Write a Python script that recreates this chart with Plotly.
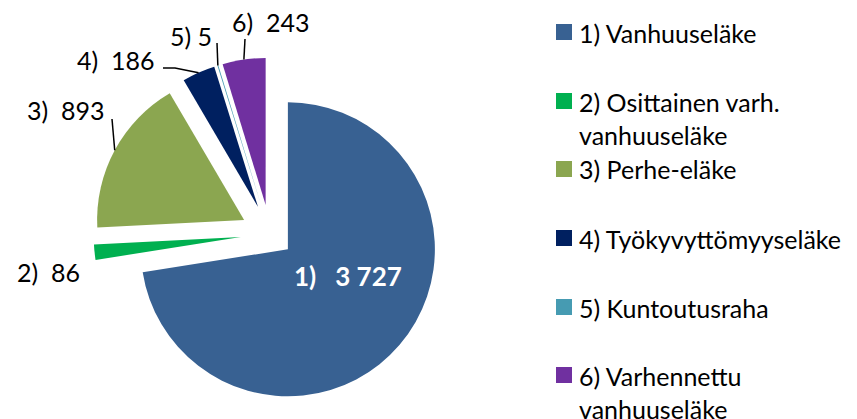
import math
import plotly.graph_objects as go

# ---- data ----
categories = ["1) Vanhuuseläke", "2) Osittainen varh. vanhuuseläke", "3) Perhe-eläke",
              "4) Työkyvyttömyyseläke", "5) Kuntoutusraha", "6) Varhennettu vanhuuseläke"]
legend_labels = ["1) Vanhuuseläke", "2) Osittainen varh.<br>vanhuuseläke", "3) Perhe-eläke",
                 "4) Työkyvyttömyyseläke", "5) Kuntoutusraha", "6) Varhennettu<br>vanhuuseläke"]
label_prefix = ["1)", "2)", "3)", "4)", "5)", "6)"]
values = [3727, 86, 893, 186, 5, 243]
colors = ["#386192", "#00B050", "#8BA650", "#002060", "#469BB2", "#7030A0"]
pulls = [0.16, 0.2, 0.2, 0.2, 0.2, 0.2]

# ---- layout geometry (pixels) ----
W, H = 857, 419
CX, CY, R = 270, 234, 147
FONT = "Lato, 'Liberation Sans', Arial, sans-serif"
FS = 25

def px(x):
    return x / W

def py(y):
    return 1 - y / H

half = R * (1 + max(pulls))

fig = go.Figure(go.Pie(
    labels=categories, values=values, sort=False, direction="clockwise", rotation=0,
    pull=pulls, marker=dict(colors=colors, line=dict(width=0)),
    textinfo="none", hoverinfo="label+value", showlegend=False,
    domain=dict(x=[px(CX - half), px(CX + half)], y=[py(CY + half), py(CY - half)]),
))

total = sum(values)

def arc_mid(i):
    start = sum(values[:i]) / total * 360
    mid = math.radians(start + values[i] / total * 360 / 2)
    d = pulls[i] * R
    ax = CX + d * math.sin(mid)
    ay = CY - d * math.cos(mid)
    return ax + R * math.sin(mid), ay - R * math.cos(mid)

def fmt(v):
    return f"{v:,}".replace(",", "\u00a0")

NB = "\u00a0"
annotations = []
shapes = []

# data labels: (index, left x, center y, gap, leader-start points)
label_specs = [
    (1, 15, 272, NB * 2, None),
    (2, 25, 110, NB * 2, [(112, 119)]),
    (3, 75, 60, NB * 2, [(163, 68), (175, 68)]),
    (4, 168, 36, NB, [(217, 43)]),
    (5, 230, 22, NB * 2, [(245, 39)]),
]
for i, lx, ly, gap, pts in label_specs:
    annotations.append(dict(
        x=px(lx), y=py(ly), xref="paper", yref="paper", xanchor="left", yanchor="middle",
        text=f"{label_prefix[i]}{gap}{fmt(values[i])}", showarrow=False,
        font=dict(family=FONT, size=FS, color="#000000")))
    if pts:
        ex, ey = arc_mid(i)
        allpts = pts + [(ex, ey)]
        path = "M " + " L ".join(f"{px(x):.5f},{py(y):.5f}" for x, y in allpts)
        shapes.append(dict(type="path", xref="paper", yref="paper", path=path,
                           line=dict(color="#000000", width=1.5)))

# inside label of the big slice
annotations.append(dict(
    x=px(292), y=py(276), xref="paper", yref="paper", xanchor="left", yanchor="middle",
    text=f"<b>{label_prefix[0]}{NB*3}{fmt(values[0])}</b>", showarrow=False,
    font=dict(family=FONT, size=26, color="#FFFFFF")))

# manual legend
leg_y = [32, 101, 169, 238, 307, 375]
for i, (lab, yc) in enumerate(zip(legend_labels, leg_y)):
    shapes.append(dict(type="rect", xref="paper", yref="paper",
                       x0=px(556), x1=px(572), y0=py(yc + 8), y1=py(yc - 8),
                       fillcolor=colors[i], line=dict(width=0)))
    annotations.append(dict(
        x=px(577), y=py(yc - 16.5), xref="paper", yref="paper", xanchor="left", yanchor="top",
        align="left", text=lab, showarrow=False,
        font=dict(family=FONT, size=FS, color="#000000")))

fig.update_layout(
    width=W, height=H, margin=dict(l=0, r=0, t=0, b=0),
    paper_bgcolor="#FFFFFF", plot_bgcolor="#FFFFFF",
    annotations=annotations, shapes=shapes, showlegend=False,
)

fig.write_html("out.html", config={"displayModeBar": False},
               post_script="document.body.style.margin='0';document.body.style.overflow='hidden';")
